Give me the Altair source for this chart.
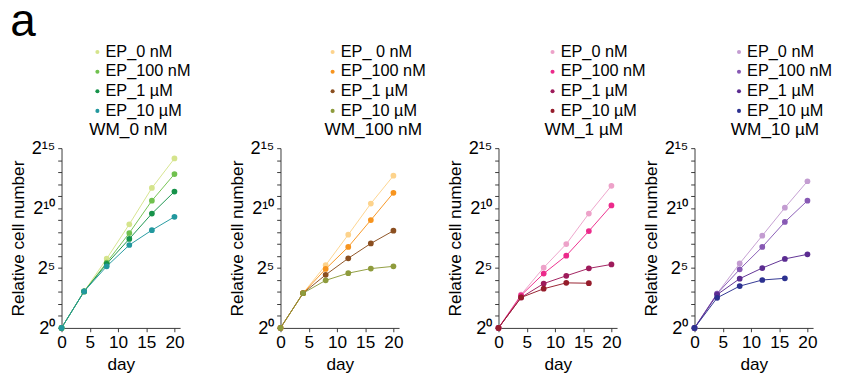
import altair as alt
import pandas as pd

FONT = "Liberation Sans"

days = [0, 4, 8, 12, 16, 20]

wm_titles = ["WM_0 nM", "WM_100 nM", "WM_1 µM", "WM_10 µM"]

ep_labels = [
    ["EP_0 nM", "EP_100 nM", "EP_1 µM", "EP_10 µM"],
    ["EP_ 0 nM", "EP_100 nM", "EP_1 µM", "EP_10 µM"],
    ["EP_0 nM", "EP_100 nM", "EP_1 µM", "EP_10 µM"],
    ["EP_0 nM", "EP_100 nM", "EP_1 µM", "EP_10 µM"],
]

panel_colors = [
    ["#d5e48c", "#70c14e", "#16924a", "#22989e"],
    ["#fdd38c", "#f7941e", "#8b4f20", "#8e9b3c"],
    ["#eda2c9", "#ec2a8b", "#9e1b5b", "#951c2b"],
    ["#c39cd1", "#8759b4", "#5b2c91", "#2c3190"],
]

# log2(relative cell number) per series, one list per EP dose
p1_ep0 = [0, 3.05, 5.78, 8.65, 11.68, 14.14]
p1_ep100 = [0, 3.05, 5.46, 7.92, 10.62, 12.84]
p1_ep1 = [0, 3.05, 5.35, 7.43, 9.54, 11.38]
p1_ep10 = [0, 3.05, 5.14, 6.92, 8.16, 9.27]

p2_ep0 = [0, 2.9, 5.24, 7.78, 10.38, 12.7]
p2_ep100 = [0, 2.9, 4.92, 6.76, 9.0, 11.27]
p2_ep1 = [0, 2.9, 4.43, 5.81, 7.05, 8.11]
p2_ep10 = [0, 2.9, 3.97, 4.57, 4.95, 5.14]

p3_ep0 = [0, 2.78, 5.03, 7.0, 9.54, 11.86]
p3_ep100 = [0, 2.72, 4.54, 6.03, 8.08, 10.22]
p3_ep1 = [0, 2.54, 3.70, 4.35, 4.97, 5.3]
p3_ep10 = [0, 2.54, 3.27, 3.76, 3.73, None]

p4_ep0 = [0, 2.86, 5.38, 7.70, 10.03, 12.24]
p4_ep100 = [0, 2.86, 4.89, 6.76, 8.84, 10.62]
p4_ep1 = [0, 2.78, 4.11, 5.0, 5.76, 6.14]
p4_ep10 = [0, 2.51, 3.49, 4.0, 4.14, None]

panel_series = [
    [p1_ep0, p1_ep100, p1_ep1, p1_ep10],
    [p2_ep0, p2_ep100, p2_ep1, p2_ep10],
    [p3_ep0, p3_ep100, p3_ep1, p3_ep10],
    [p4_ep0, p4_ep100, p4_ep1, p4_ep10],
]

x_ticks = [0, 5, 10, 15, 20]
y_major = [0, 5, 10, 15]
y_tick_labels = ["2⁰", "2⁵", "2¹⁰", "2¹⁵"]
y_minor = list(range(0, 16))

legend_x = [29, 46, 48, 38]

label_expr = " : ".join(
    f"datum.value == {v} ? '{t}'" for v, t in zip(y_major, y_tick_labels)
) + " : ''"


def panel(i):
    rows = []
    for lab, vals in zip(ep_labels[i], panel_series[i]):
        for d, v in zip(days, vals):
            if v is not None:
                rows.append({"day": d, "value": v, "series": lab})
    df = pd.DataFrame(rows)
    color = alt.Color(
        "series:N",
        scale=alt.Scale(domain=ep_labels[i], range=panel_colors[i]),
        sort=ep_labels[i],
        legend=alt.Legend(
            title=wm_titles[i],
            titleOrient="bottom",
            titleAnchor="start",
            titleFontSize=18,
            titleFont=FONT,
            titleFontWeight="normal",
            titleColor="black",
            titlePadding=3,
            orient="none",
            legendX=legend_x[i],
            legendY=-109,
            symbolType="circle",
            symbolSize=18,
            symbolStrokeWidth=0,
            labelFontSize=17,
            labelFont=FONT,
            labelColor="black",
            labelOffset=0,
            rowPadding=2.5,
        ),
    )
    base = alt.Chart(df).encode(
        x=alt.X(
            "day:Q",
            scale=alt.Scale(domain=[0, 21], nice=False),
            axis=alt.Axis(values=x_ticks, title="day", labelFlush=False),
        ),
        y=alt.Y(
            "value:Q",
            scale=alt.Scale(domain=[0, 15], nice=False),
            axis=alt.Axis(
                values=y_minor,
                labelExpr=label_expr,
                title="Relative cell number",
                labelFontSize=19,
                labelFlush=False,
                labelOverlap=False,
            ),
        ),
        color=color,
        detail="series:N",
    )
    lines = base.mark_line(strokeWidth=1)
    pts = base.mark_circle(size=36, opacity=1)
    return alt.layer(lines, pts).properties(width=124, height=188)


p = [panel(i) for i in range(4)]

inner2 = alt.hconcat(p[2], p[3], spacing=81, bounds="flush").resolve_scale(color="independent").resolve_legend(color="independent")
inner1 = alt.hconcat(p[1], inner2, spacing=104, bounds="flush").resolve_scale(color="independent").resolve_legend(color="independent")
chart = (
    alt.hconcat(p[0], inner1, spacing=105, bounds="flush")
    .resolve_scale(color="independent")
    .resolve_legend(color="independent")
    .properties(
        title=alt.TitleParams("a", anchor="start", fontSize=48, font=FONT, fontWeight="normal", offset=-2, frame="bounds"),
        padding={"left": 2, "top": -17, "right": 5, "bottom": 2},
    )
    .configure_view(stroke=None)
    .configure_axis(
        grid=False,
        domainColor="#333333",
        tickColor="#333333",
        tickSize=4,
        labelColor="black",
        titleColor="black",
        labelFont=FONT,
        titleFont=FONT,
        labelFontSize=18,
        titleFontSize=18,
        titleFontWeight="normal",
        labelPadding=3,
        titlePadding=4,
    )
)

chart.save("out.html", embed_options={"renderer": "svg", "actions": False})
